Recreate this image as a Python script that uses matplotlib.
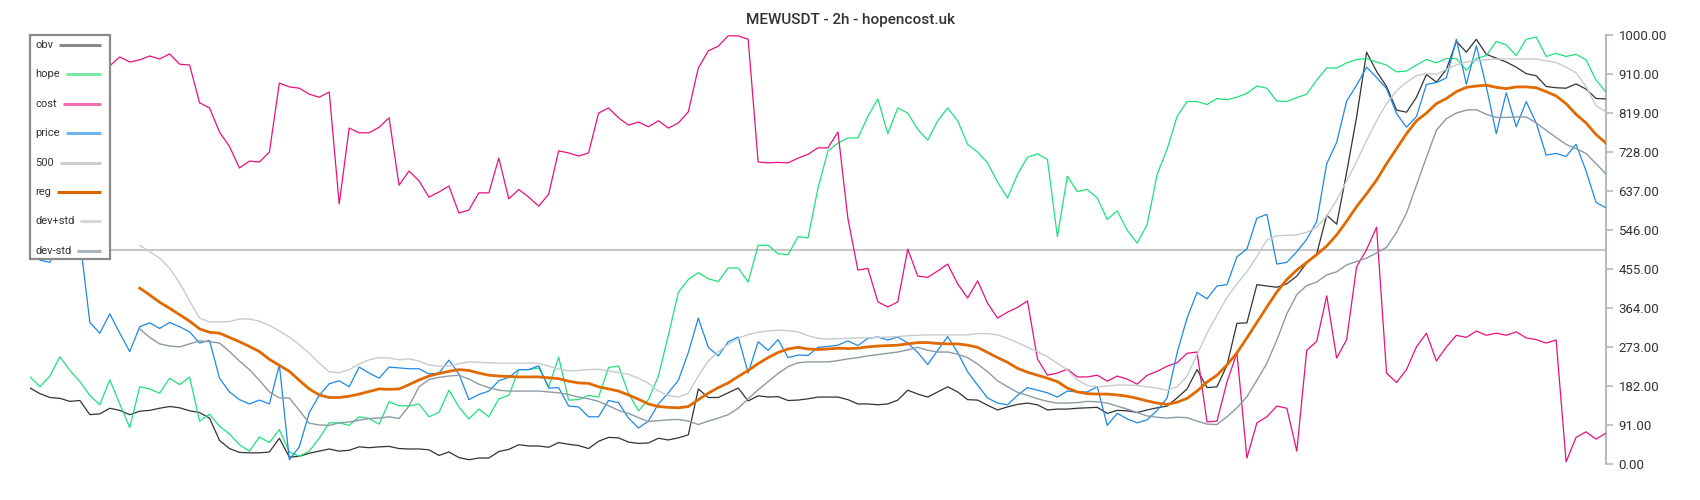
import numpy as np
import matplotlib
matplotlib.use("Agg")
import matplotlib.pyplot as plt
from matplotlib.lines import Line2D
from matplotlib.patches import Rectangle

plt.rcParams['font.family'] = ['Roboto', 'DejaVu Sans']

title = "MEWUSDT - 2h - hopencost.uk"
series_names = ["obv", "hope", "cost", "price", "500", "reg", "dev+std", "dev-std"]
ytick_values = [0, 91, 182, 273, 364, 455, 546, 637, 728, 819, 910, 1000]
ytick_labels = [f"{v:.2f}" for v in ytick_values]
level_500 = 500
nan = float('nan')

cost = [925, 930, 940, 935, 945, 938, 930, 925, 928, 949,
        937, 942, 951, 944, 956, 932, 930, 842, 830, 774,
        740, 690, 706, 704, 727, 888, 879, 876, 862, 855,
        867, 606, 783, 772, 772, 785, 807, 650, 683, 660,
        622, 634, 648, 585, 592, 632, 632, 713, 618, 640,
        622, 601, 629, 730, 725, 718, 725, 818, 830, 807,
        790, 797, 786, 800, 783, 795, 821, 923, 963, 974,
        998, 998, 990, 704, 702, 703, 702, 713, 722, 737,
        737, 774, 572, 452, 456, 378, 366, 378, 501, 438,
        435, 450, 466, 420, 387, 427, 375, 340, 354, 365,
        380, 245, 207, 212, 221, 203, 203, 207, 193, 205,
        198, 186, 207, 216, 228, 236, 258, 261, 98, 100,
        191, 259, 14, 96, 110, 135, 130, 30, 265, 286,
        392, 247, 290, 460, 500, 552, 212, 190, 220, 273,
        305, 240, 273, 300, 295, 310, 300, 305, 300, 308,
        294, 290, 282, 289, 5, 62, 75, 58, 72]

hope = [203, 180, 205, 250, 218, 192, 160, 138, 196, 140,
        85, 180, 175, 165, 200, 185, 203, 100, 116, 88,
        70, 45, 30, 63, 50, 80, 28, 18, 30, 60,
        96, 96, 90, 110, 106, 93, 145, 136, 135, 140,
        110, 120, 172, 133, 105, 128, 110, 152, 160, 220,
        220, 224, 180, 249, 149, 150, 160, 156, 225, 228,
        165, 124, 150, 205, 300, 400, 430, 446, 432, 425,
        457, 457, 424, 510, 510, 490, 488, 530, 527, 643,
        730, 748, 760, 760, 810, 851, 770, 830, 818, 780,
        755, 800, 830, 800, 745, 727, 702, 657, 620, 675,
        715, 723, 710, 530, 671, 635, 640, 620, 570, 590,
        545, 515, 558, 675, 734, 810, 845, 845, 838, 852,
        849, 855, 864, 881, 876, 846, 845, 854, 862, 895,
        923, 923, 935, 943, 945, 937, 930, 914, 916, 930,
        943, 935, 945, 945, 918, 945, 952, 985, 977, 952,
        990, 995, 950, 957, 950, 955, 942, 895, 867]

price = [520, 475, 470, 530, 545, 525, 330, 305, 350, 305,
         262, 320, 329, 316, 330, 320, 308, 282, 288, 200,
         168, 150, 140, 149, 140, 231, 10, 40, 120, 160,
         187, 194, 180, 226, 212, 200, 226, 224, 222, 222,
         210, 212, 242, 210, 150, 162, 170, 194, 202, 220,
         220, 229, 177, 178, 135, 133, 110, 110, 148, 143,
         107, 84, 100, 140, 166, 195, 260, 340, 272, 252,
         285, 296, 212, 285, 265, 290, 248, 254, 253, 272,
         274, 277, 287, 276, 293, 296, 289, 296, 282, 260,
         232, 265, 297, 260, 215, 184, 154, 142, 138, 160,
         178, 172, 166, 156, 170, 168, 168, 180, 90, 118,
         105, 96, 103, 125, 154, 259, 340, 400, 385, 415,
         418, 483, 501, 573, 582, 466, 470, 495, 524, 565,
         700, 750, 846, 883, 925, 901, 875, 817, 785, 810,
         885, 889, 900, 990, 885, 975, 880, 770, 865, 786,
         845, 795, 720, 724, 717, 745, 683, 610, 597]

obv = [177, 164, 155, 153, 146, 148, 115, 117, 130, 125,
       115, 123, 125, 130, 134, 131, 124, 120, 107, 55,
       36, 27, 26, 26, 28, 60, 16, 18, 25, 30,
       35, 30, 32, 40, 38, 40, 41, 36, 35, 35,
       33, 20, 28, 15, 10, 14, 14, 29, 34, 45,
       42, 42, 39, 50, 46, 43, 36, 53, 62, 61,
       51, 48, 49, 60, 56, 61, 68, 175, 155, 155,
       166, 177, 147, 159, 156, 157, 148, 149, 152, 156,
       156, 156, 150, 140, 140, 138, 140, 149, 172, 163,
       156, 168, 180, 168, 150, 149, 137, 126, 133, 139,
       142, 138, 126, 128, 128, 130, 131, 132, 118, 125,
       124, 120, 126, 131, 135, 154, 175, 220, 178, 180,
       230, 328, 329, 418, 415, 412, 420, 438, 469, 490,
       580, 559, 680, 809, 960, 915, 880, 825, 820, 855,
       908, 890, 920, 985, 960, 990, 955, 946, 937, 925,
       910, 905, 880, 877, 876, 886, 874, 852, 851]

reg = [nan] * 11 + [
    410, 394, 377, 363, 348, 333, 315, 307, 305,
    295, 285, 274, 262, 244, 230, 216, 195, 175, 161,
    155, 155, 158, 163, 169, 175, 174, 175, 185, 196,
    205, 211, 216, 220, 218, 212, 207, 205, 204, 203,
    203, 203, 201, 199, 193, 189, 188, 180, 175, 170,
    161, 151, 140, 134, 132, 131, 134, 150, 165, 178,
    189, 204, 218, 234, 248, 260, 268, 272, 268, 267,
    268, 270, 269, 270, 273, 275, 276, 277, 280, 283,
    283, 281, 280, 280, 277, 272, 260, 248, 237, 223,
    214, 207, 200, 192, 177, 168, 164, 163, 163, 161,
    158, 153, 147, 142, 139, 144, 153, 170, 191, 207,
    231, 259, 294, 330, 366, 401, 430, 452, 470, 488,
    508, 534, 566, 600, 630, 662, 700, 735, 770, 800,
    818, 840, 852, 868, 878, 881, 883, 878, 875, 879,
    879, 877, 868, 858, 840, 815, 795, 768, 748]

dev_plus = [nan] * 11 + [
    510, 495, 480, 456, 422, 380, 340, 331, 331,
    332, 338, 338, 333, 323, 310, 296, 278, 258, 235,
    215, 213, 220, 233, 243, 248, 247, 243, 245, 240,
    231, 228, 228, 234, 238, 237, 236, 235, 235, 235,
    235, 235, 228, 221, 217, 218, 220, 221, 217, 213,
    209, 200, 188, 170, 160, 156, 165, 205, 240, 262,
    279, 293, 302, 307, 310, 312, 311, 308, 299, 293,
    291, 292, 293, 294, 294, 295, 296, 297, 299, 300,
    301, 301, 301, 301, 301, 304, 304, 301, 293, 283,
    272, 262, 250, 235, 219, 196, 183, 180, 182, 184,
    184, 183, 180, 177, 172, 180, 205, 255, 305, 347,
    388, 420, 448, 484, 522, 532, 533, 534, 540, 552,
    578, 615, 660, 705, 755, 800, 840, 870, 890, 905,
    910, 908, 920, 930, 937, 940, 943, 944, 944, 944,
    944, 944, 940, 936, 925, 912, 880, 835, 821]

dev_minus = [nan] * 11 + [
    315, 295, 280, 275, 273, 280, 287, 285, 282,
    262, 240, 220, 195, 168, 154, 154, 125, 95, 91,
    90, 96, 98, 102, 106, 107, 110, 106, 135, 180,
    197, 202, 205, 207, 198, 186, 178, 172, 170, 170,
    170, 170, 168, 166, 162, 156, 152, 146, 136, 125,
    118, 108, 99, 101, 103, 104, 100, 92, 100, 107,
    115, 130, 152, 173, 192, 211, 227, 236, 238, 238,
    238, 241, 245, 248, 252, 255, 258, 261, 266, 272,
    265, 261, 261, 256, 248, 233, 215, 194, 180, 167,
    160, 152, 146, 142, 142, 143, 146, 145, 142, 135,
    128, 120, 112, 109, 107, 109, 108, 100, 93, 92,
    110, 131, 157, 195, 235, 289, 350, 395, 416, 424,
    441, 448, 464, 472, 480, 492, 505, 540, 585, 650,
    715, 778, 805, 818, 825, 826, 815, 808, 808, 809,
    809, 795, 778, 761, 745, 735, 724, 700, 676]

# ---------------- figure ----------------
W, H = 1700, 500
fig = plt.figure(figsize=(W / 100, H / 100), dpi=100)
ax = fig.add_axes([30 / W, 36 / H, 1576 / W, 429 / H])

x = np.arange(len(obv))
line_colors = {
    "obv": "#333333", "hope": "#1de27a", "cost": "#e8107f", "price": "#1e88e5",
    "500": "#c8c8c8", "reg": "#e06a00", "dev+std": "#c5cbd0", "dev-std": "#8e9aa3",
}
ax.plot(x, obv, color=line_colors["obv"], lw=0.9, zorder=3)
ax.plot(x, hope, color=line_colors["hope"], lw=0.9, zorder=3)
ax.plot(x, cost, color=line_colors["cost"], lw=0.9, zorder=3)
ax.plot(x, price, color=line_colors["price"], lw=0.9, zorder=3)
ax.axhline(level_500, color=line_colors["500"], lw=1.5, zorder=2)
ax.plot(x, reg, color=line_colors["reg"], lw=2.0, zorder=4)
ax.plot(x, dev_plus, color=line_colors["dev+std"], lw=1.0, zorder=3)
ax.plot(x, dev_minus, color=line_colors["dev-std"], lw=1.0, zorder=3)

ax.set_xlim(0, len(obv) - 1)
ax.set_ylim(0, 1000)
ax.set_xticks([])
ax.yaxis.tick_right()
ax.set_yticks(ytick_values)
ax.set_yticklabels(ytick_labels)
ax.tick_params(axis='y', direction='out', length=5, width=1.2, colors='#b3bac0',
               labelcolor='#333333', labelsize=9.5, pad=4)
for s in ["top", "left", "bottom"]:
    ax.spines[s].set_visible(False)
ax.spines["right"].set_color('#b3bac0')
ax.spines["right"].set_linewidth(1.5)

fig.text(0.5, 1 - 20 / H, title, ha='center', va='center', fontsize=11,
         color='#333333', fontweight='medium')

# ---------------- legend (manual, matches reference layout) ----------------
legend_colors = {
    "obv": "#8a8a8a", "hope": "#7ce6a6", "cost": "#ef6fb1", "price": "#70b2eb",
    "500": "#cccccc", "reg": "#d96400", "dev+std": "#d3d8dc", "dev-std": "#a9b3ba",
}
box_l, box_t, box_r, box_b = 30, 35, 110, 259
fig.add_artist(Rectangle((box_l / W, 1 - box_b / H), (box_r - box_l) / W,
                         (box_b - box_t) / H, transform=fig.transFigure,
                         facecolor='white', edgecolor='#8a8a8a', lw=1.6, zorder=10))
fig.canvas.draw()
renderer = fig.canvas.get_renderer()
row_y0, row_dy = 45, 29.4
for k, name in enumerate(series_names):
    yy = 1 - (row_y0 + k * row_dy) / H
    t = fig.text(35 / W, yy, name, ha='left', va='center', fontsize=8,
                 color='#333333', zorder=11)
    bb = t.get_window_extent(renderer=renderer)
    x0 = (bb.x1 + 6) / W
    fig.add_artist(Line2D([x0, 101 / W], [yy, yy], transform=fig.transFigure,
                          color=legend_colors[name], lw=2.2, zorder=11,
                          solid_capstyle='butt'))

fig.savefig("out.png", dpi=100)
